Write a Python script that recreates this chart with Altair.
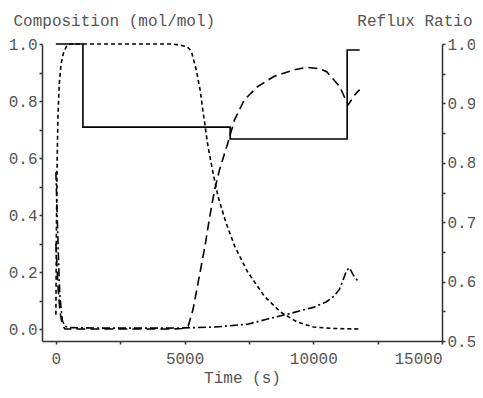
import altair as alt
import pandas as pd

# Composition series (time in s, mol/mol)
t_a = [0, 20, 50, 80, 130, 200, 300, 400, 500, 1500, 3000, 4500, 4880, 5100, 5260, 5450, 5600, 5720,
       5910, 6100, 6300, 6600, 6950, 7450, 8100, 8720, 9370, 10000, 10800, 11800]
c_a = [0.05, 0.35, 0.6, 0.75, 0.86, 0.93, 0.97, 0.99, 1.0, 1.0, 1.0, 1.0, 0.995, 0.99, 0.975, 0.91, 0.84, 0.76,
       0.64, 0.55, 0.465, 0.375, 0.29, 0.2, 0.115, 0.06, 0.025, 0.007, 0.002, 0.0]

t_b = [0, 80, 160, 250, 350, 1000, 3000, 4500, 4900, 5140, 5330, 5530, 5790, 5980, 6170, 6360, 6680, 6940,
       7320, 7830, 8470, 9240, 9750, 10250, 10520, 11030, 11260, 11360, 11600, 11800]
c_b = [0.3, 0.15, 0.06, 0.015, 0.0, 0.0, 0.0, 0.0, 0.002, 0.01, 0.07, 0.165, 0.29, 0.396, 0.49, 0.56, 0.653, 0.734,
       0.804, 0.85, 0.886, 0.909, 0.918, 0.913, 0.903, 0.85, 0.804, 0.787, 0.82, 0.84]

t_c = [0, 50, 100, 150, 250, 350, 500, 2000, 4000, 5000, 6180, 7450, 8220, 8990, 9500, 10000, 10500, 10800,
       11020, 11170, 11290, 11400, 11550, 11700, 11800]
c_c = [0.55, 0.4, 0.25, 0.12, 0.03, 0.01, 0.005, 0.003, 0.003, 0.004, 0.007, 0.017, 0.035, 0.052, 0.064, 0.076,
       0.095, 0.115, 0.14, 0.175, 0.205, 0.215, 0.19, 0.172, 0.165]

# Reflux ratio (step)
t_r = [0, 1050, 6770, 11316, 11800]
r_r = [1.0, 0.86, 0.84, 0.99, 0.99]

x_ticks = [0, 2500, 5000, 7500, 10000, 12500, 15000]
left_ticks = [0.0, 0.1, 0.2, 0.3, 0.4, 0.5, 0.6, 0.7, 0.8, 0.9, 1.0]
right_ticks = [0.5, 0.55, 0.6, 0.65, 0.7, 0.75, 0.8, 0.85, 0.9, 0.95, 1.0]

rows = []
for name, ts, cs in [("A", t_a, c_a), ("B", t_b, c_b), ("C", t_c, c_c)]:
    for t, c in zip(ts, cs):
        rows.append({"t": t, "c": c, "series": name})
comp = pd.DataFrame(rows)
reflux = pd.DataFrame({"t": t_r, "r": r_r})

FONT = "Liberation Mono"
TXT = "#555555"
FS = 16

x_enc = alt.X(
    "t:Q",
    scale=alt.Scale(domain=[-540, 15000], nice=False, zero=False),
    axis=alt.Axis(
        values=x_ticks,
        labelExpr="datum.value % 5000 === 0 ? format(datum.value, 'd') : ''",
        title="Time (s)",
        labelPadding=6,
        titlePadding=3,
    ),
)

comp_chart = alt.Chart(comp).mark_line(color="black", strokeWidth=1.6).encode(
    x=x_enc,
    y=alt.Y(
        "c:Q",
        scale=alt.Scale(domain=[-0.042, 1.0], nice=False, zero=False),
        axis=alt.Axis(
            values=left_ticks,
            labelExpr="round(datum.value * 10) % 2 === 0 ? format(datum.value, '.1f') : ''",
            title="Composition (mol/mol)",
            titleAngle=0,
            titleAlign="left",
            titleBaseline="alphabetic",
            titleX=-29,
            titleY=-19,
            labelPadding=2,
            orient="left",
        ),
    ),
    strokeDash=alt.StrokeDash(
        "series:N",
        scale=alt.Scale(domain=["A", "B", "C"], range=[[4, 3], [9, 5], [8, 3, 2, 3]]),
        legend=None,
    ),
    detail="series:N",
)

reflux_chart = alt.Chart(reflux).mark_line(color="black", strokeWidth=1.6, interpolate="step-after").encode(
    x=alt.X("t:Q"),
    y=alt.Y(
        "r:Q",
        scale=alt.Scale(domain=[0.5, 1.0], nice=False, zero=False),
        axis=alt.Axis(
            values=right_ticks,
            labelExpr="round(datum.value * 100) % 10 === 0 ? format(datum.value, '.1f') : ''",
            title="Reflux Ratio",
            titleAngle=0,
            titleAlign="right",
            titleBaseline="alphabetic",
            titleX=30,
            titleY=-19,
            labelPadding=2,
            orient="right",
        ),
    ),
)

chart = (
    alt.layer(comp_chart, reflux_chart)
    .resolve_scale(y="independent")
    .properties(
        width=400,
        height=297,
        autosize=alt.AutoSizeParams(type="none"),
        padding={"left": 34, "top": 36, "right": 33, "bottom": 45},
    )
    .configure_view(stroke=None)
    .configure_axis(
        grid=False,
        domainColor="#333333",
        domainWidth=1.5,
        tickColor="#333333",
        tickWidth=1.5,
        tickSize=3,
        labelFont=FONT,
        labelFontSize=FS,
        labelColor=TXT,
        titleFont=FONT,
        titleFontSize=FS,
        titleFontWeight="normal",
        titleColor=TXT,
    )
)

chart.save("out.html", embed_options={"renderer": "svg", "actions": False})
